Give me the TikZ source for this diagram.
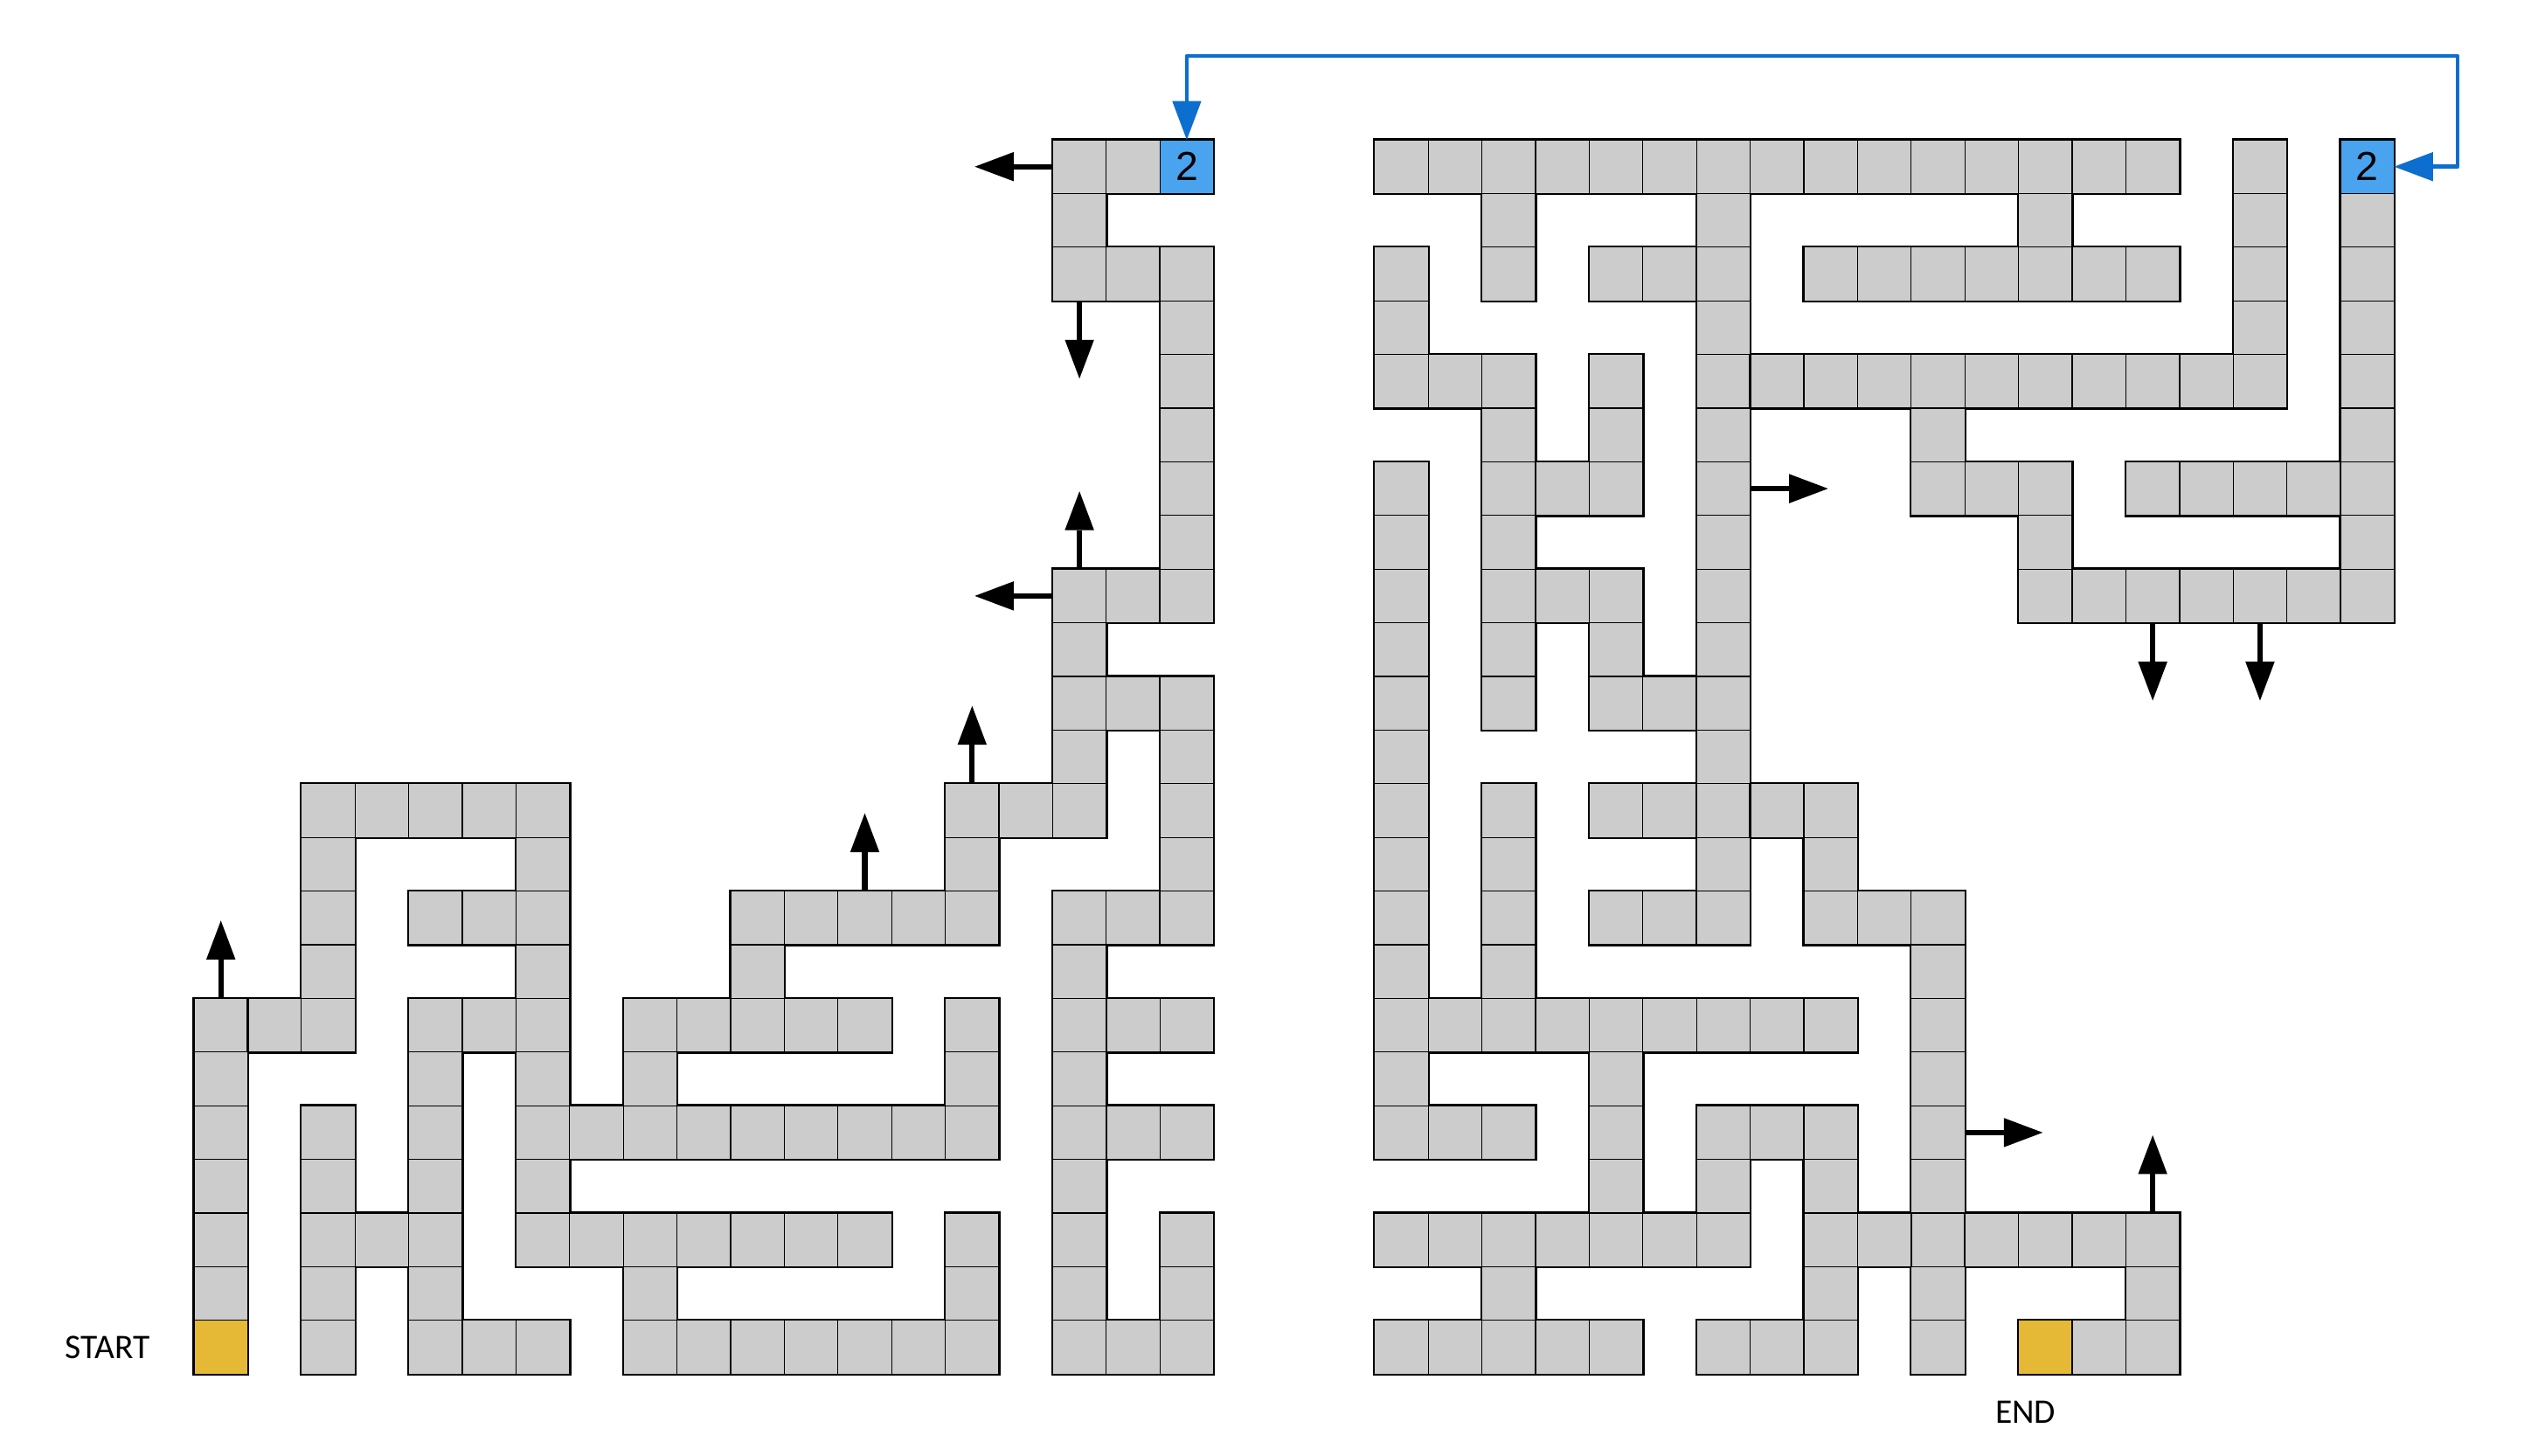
\documentclass[tikz,border=0pt]{standalone}
\usepackage{fontspec}
\setmainfont{Carlito}
\newfontfamily\digitfont{Liberation Sans}
\usetikzlibrary{arrows.meta}
\definecolor{cellgray}{RGB}{204,204,204}
\definecolor{cellyellow}{RGB}{229,185,53}
\definecolor{cellblue}{RGB}{74,163,238}
\definecolor{linkblue}{RGB}{12,110,206}
\tikzset{
  outerwall/.style={draw=black, line width=1.6pt},
  cellbox/.style={fill=cellgray, draw=black, line width=0.6pt},
  wall/.style={draw=black, line width=1.1pt},
  special/.style={draw=black, line width=0.6pt, minimum size=1cm, inner sep=0pt, outer sep=0pt},
  bluecell/.style={special, fill=cellblue, font=\digitfont\fontsize{21.5}{24}\selectfont},
  yellowcell/.style={special, fill=cellyellow},
  jump/.style={draw=black, line width=2.9pt, -{Triangle[length=20.6pt,width=15.5pt,line width=0pt]}},
  bluelink/.style={draw=linkblue, line width=2.2pt, line join=round,
    {Triangle[length=20.6pt,width=15.5pt,line width=0pt]}-{Triangle[length=20.6pt,width=15.5pt,line width=0pt]}},
  lbl/.style={font=\fontsize{18.3}{20}\selectfont, inner sep=0pt, anchor=base}
}
% row / first column / last column
\def\segs{0/16/18, 1/16/16, 2/16/18, 3/18/18, 4/18/18, 5/18/18, 6/18/18, 7/18/18,
 8/16/18, 9/16/16, 10/16/18, 11/16/16, 11/18/18,
 12/2/6, 12/14/16, 12/18/18,
 13/2/2, 13/6/6, 13/14/14, 13/18/18,
 14/2/2, 14/4/6, 14/10/14, 14/16/18,
 15/2/2, 15/6/6, 15/10/10, 15/16/16,
 16/0/2, 16/4/6, 16/8/12, 16/14/14, 16/16/18,
 17/0/0, 17/4/4, 17/6/6, 17/8/8, 17/14/14, 17/16/16,
 18/0/0, 18/2/2, 18/4/4, 18/6/14, 18/16/18,
 19/0/0, 19/2/2, 19/4/4, 19/6/6, 19/16/16,
 20/0/0, 20/2/4, 20/6/12, 20/14/14, 20/16/16, 20/18/18,
 21/0/0, 21/2/2, 21/4/4, 21/8/8, 21/14/14, 21/16/16, 21/18/18,
 22/0/0, 22/2/2, 22/4/6, 22/8/14, 22/16/18,
 0/22/36, 0/38/38, 0/40/40,
 1/24/24, 1/28/28, 1/34/34, 1/38/38, 1/40/40,
 2/22/22, 2/24/24, 2/26/28, 2/30/36, 2/38/38, 2/40/40,
 3/22/22, 3/28/28, 3/38/38, 3/40/40,
 4/22/24, 4/26/26, 4/28/38, 4/40/40,
 5/24/24, 5/26/26, 5/28/28, 5/32/32, 5/40/40,
 6/22/22, 6/24/26, 6/28/28, 6/32/34, 6/36/40,
 7/22/22, 7/24/24, 7/28/28, 7/34/34, 7/40/40,
 8/22/22, 8/24/26, 8/28/28, 8/34/40,
 9/22/22, 9/24/24, 9/26/26, 9/28/28,
 10/22/22, 10/24/24, 10/26/28,
 11/22/22, 11/28/28,
 12/22/22, 12/24/24, 12/26/30,
 13/22/22, 13/24/24, 13/28/28, 13/30/30,
 14/22/22, 14/24/24, 14/26/28, 14/30/32,
 15/22/22, 15/24/24, 15/32/32,
 16/22/30, 16/32/32,
 17/22/22, 17/26/26, 17/32/32,
 18/22/24, 18/26/26, 18/28/30, 18/32/32,
 19/26/26, 19/28/28, 19/30/30, 19/32/32,
 20/22/28, 20/30/36,
 21/24/24, 21/30/30, 21/32/32, 21/36/36,
 22/22/26, 22/28/30, 22/32/32, 22/34/36}
\begin{document}
\begin{tikzpicture}
\useasboundingbox (-3.616,-24.527) rectangle (43.550,2.606);
% pass 1: outer walls (their inner half is covered by the cell fills)
\foreach \r/\a/\b in \segs {\foreach \c in {\a,...,\b} {\path[outerwall] (\c,-\r) rectangle ++(1,-1);}}
% pass 2: cells
\foreach \r/\a/\b in \segs {\foreach \c in {\a,...,\b} {\path[cellbox] (\c,-\r) rectangle ++(1,-1);}}
% inner walls
\draw[wall] (18,-2) -- (18,-3);
\draw[wall] (18,-8) -- (18,-9);
\draw[wall] (18,-10) -- (18,-11);
\draw[wall] (18,-14) -- (18,-15);
\draw[wall] (1,-16) -- (1,-17);
\draw[wall] (17,-16) -- (17,-17);
\draw[wall] (17,-18) -- (17,-19);
\draw[wall] (28,-2) -- (28,-3);
\draw[wall] (28,-10) -- (28,-11);
\draw[wall] (28,-12) -- (28,-13);
\draw[wall] (28,-14) -- (28,-15);
\draw[wall] (29,-4) -- (29,-5);
\draw[wall] (29,-12) -- (29,-13);
\draw[wall] (32,-20) -- (32,-21);
\draw[wall] (33,-20) -- (33,-21);
% special cells
\node[yellowcell] (startcell) at (0.5,-22.5) {};
\node[yellowcell] (endcell) at (34.5,-22.5) {};
\node[bluecell] (blueL) at (18.5,-0.5) {2};
\node[bluecell] (blueR) at (40.5,-0.5) {2};
% labels
\node[lbl] (startlbl) at (-1.612,-22.709) {START};
\node[lbl] (endlbl) at (34.13,-23.919) {END};
% blue link
\coordinate (linkL) at (18.5,1.563);
\coordinate (linkR) at (42.18,1.563);
\draw[bluelink] (blueL.north) -- (linkL) -- (linkR) |- (blueR.east);
% jump arrows
\draw[jump] (16,-0.5) -- (14.55,-0.5);
\draw[jump] (16.5,-3) -- (16.5,-4.45);
\draw[jump] (16.5,-8) -- (16.5,-6.55);
\draw[jump] (16,-8.5) -- (14.55,-8.5);
\draw[jump] (14.5,-12) -- (14.5,-10.55);
\draw[jump] (12.5,-14) -- (12.5,-12.55);
\draw[jump] (0.5,-16) -- (0.5,-14.55);
\draw[jump] (29,-6.5) -- (30.45,-6.5);
\draw[jump] (36.5,-9) -- (36.5,-10.45);
\draw[jump] (38.5,-9) -- (38.5,-10.45);
\draw[jump] (33,-18.5) -- (34.45,-18.5);
\draw[jump] (36.5,-20) -- (36.5,-18.55);
\end{tikzpicture}
\end{document}
